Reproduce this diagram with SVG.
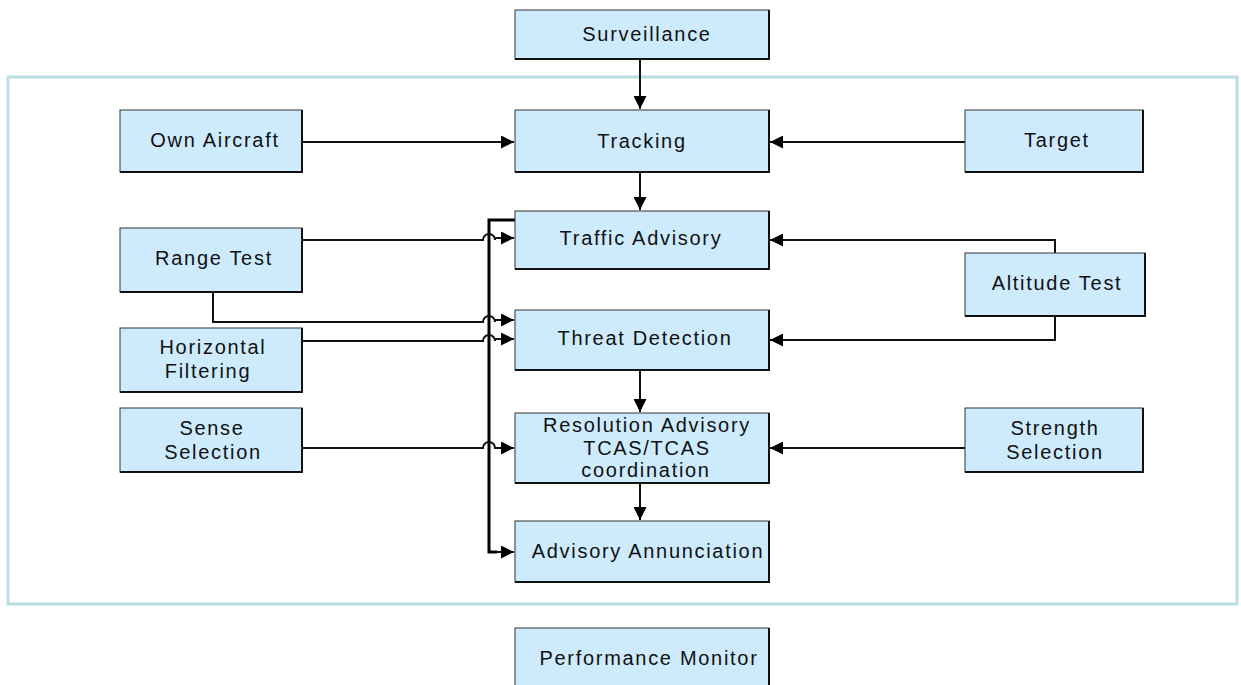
<svg xmlns="http://www.w3.org/2000/svg" width="1241" height="685" viewBox="0 0 1241 685">
<defs>
<marker id="ah" viewBox="0 0 10 10" refX="10" refY="5" markerWidth="18" markerHeight="13" markerUnits="userSpaceOnUse" orient="auto">
<path d="M0,0 L10,5 L0,10 z" fill="#000"/>
</marker>
<style>
.box{fill:#cdebfd;stroke:#333;stroke-width:1}
.sh{fill:none;stroke:#111;stroke-width:2}
.t{font-family:"Liberation Sans",Arial,sans-serif;font-size:20px;letter-spacing:1.7px;fill:#111;text-anchor:middle}
.c{fill:none;stroke:#111;stroke-width:2}
.bus{fill:none;stroke:#000;stroke-width:3}
</style>
</defs>
<rect width="1241" height="685" fill="#fff"/>
<rect x="8" y="77" width="1229" height="527" fill="none" stroke="#b8dfe2" stroke-width="3"/>

<g id="connectors">
<line class="c" x1="640" y1="59" x2="640" y2="109" marker-end="url(#ah)"/>
<line class="c" x1="302" y1="142" x2="514" y2="142" marker-end="url(#ah)"/>
<line class="c" x1="965" y1="142" x2="770" y2="142" marker-end="url(#ah)"/>
<line class="c" x1="640" y1="172" x2="640" y2="210" marker-end="url(#ah)"/>
<line class="c" x1="640" y1="370" x2="640" y2="412" marker-end="url(#ah)"/>
<line class="c" x1="640" y1="483" x2="640" y2="520" marker-end="url(#ah)"/>
<polyline class="bus" points="515,220 489,220 489,552 497,552"/>
<line class="c" x1="496" y1="552" x2="514" y2="552" marker-end="url(#ah)"/>
<path class="c" d="M302,240 H483 A6,6 0 0 1 495,240 V238 H514" marker-end="url(#ah)"/>
<path class="c" d="M213,292 V322 H483 A6,6 0 0 1 495,322 V320 H514" marker-end="url(#ah)"/>
<path class="c" d="M302,341 H483 A6,6 0 0 1 495,341 V339 H514" marker-end="url(#ah)"/>
<path class="c" d="M302,448 H483 A6,6 0 0 1 495,448 V448 H514" marker-end="url(#ah)"/>
<path class="c" d="M1055,253 V240 H770" marker-end="url(#ah)"/>
<path class="c" d="M1055,316 V340 H770" marker-end="url(#ah)"/>
<line class="c" x1="965" y1="448" x2="770" y2="448" marker-end="url(#ah)"/>
</g>

<g id="surveillance"><rect class="box" x="515" y="10" width="254" height="49"/><polyline class="sh" points="769,10 769,59 515,59"/><text class="t" x="647" y="41">Surveillance</text></g>
<g id="own-aircraft"><rect class="box" x="120" y="110" width="182" height="62"/><polyline class="sh" points="302,110 302,172 120,172"/><text class="t" x="215" y="147">Own Aircraft</text></g>
<g id="tracking"><rect class="box" x="515" y="110" width="254" height="62"/><polyline class="sh" points="769,110 769,172 515,172"/><text class="t" x="642" y="148">Tracking</text></g>
<g id="target"><rect class="box" x="965" y="110" width="178" height="62"/><polyline class="sh" points="1143,110 1143,172 965,172"/><text class="t" x="1057" y="147">Target</text></g>
<g id="traffic-advisory"><rect class="box" x="515" y="211" width="254" height="58"/><polyline class="sh" points="769,211 769,269 515,269"/><text class="t" x="641" y="245">Traffic Advisory</text></g>
<g id="range-test"><rect class="box" x="120" y="228" width="182" height="64"/><polyline class="sh" points="302,228 302,292 120,292"/><text class="t" x="214" y="265">Range Test</text></g>
<g id="altitude-test"><rect class="box" x="965" y="253" width="180" height="63"/><polyline class="sh" points="1145,253 1145,316 965,316"/><text class="t" x="1057" y="290">Altitude Test</text></g>
<g id="threat-detection"><rect class="box" x="515" y="310" width="254" height="60"/><polyline class="sh" points="769,310 769,370 515,370"/><text class="t" x="645" y="345">Threat Detection</text></g>
<g id="horizontal-filtering"><rect class="box" x="120" y="328" width="182" height="64"/><polyline class="sh" points="302,328 302,392 120,392"/><text class="t" x="213" y="354">Horizontal</text><text class="t" x="208" y="378">Filtering</text></g>
<g id="sense-selection"><rect class="box" x="120" y="408" width="182" height="64"/><polyline class="sh" points="302,408 302,472 120,472"/><text class="t" x="212" y="435">Sense</text><text class="t" x="213" y="459">Selection</text></g>
<g id="resolution-advisory"><rect class="box" x="515" y="413" width="254" height="70"/><polyline class="sh" points="769,413 769,483 515,483"/><text class="t" x="647" y="432">Resolution Advisory</text><text class="t" x="647" y="455">TCAS/TCAS</text><text class="t" x="646" y="477">coordination</text></g>
<g id="strength-selection"><rect class="box" x="965" y="408" width="178" height="64"/><polyline class="sh" points="1143,408 1143,472 965,472"/><text class="t" x="1055" y="435">Strength</text><text class="t" x="1055" y="459">Selection</text></g>
<g id="advisory-annunciation"><rect class="box" x="515" y="521" width="254" height="61"/><polyline class="sh" points="769,521 769,582 515,582"/><text class="t" x="648" y="558">Advisory Annunciation</text></g>
<g id="performance-monitor"><rect class="box" x="515" y="628" width="254" height="60"/><polyline class="sh" points="769,628 769,688"/><text class="t" x="649" y="665">Performance Monitor</text></g>
</svg>
